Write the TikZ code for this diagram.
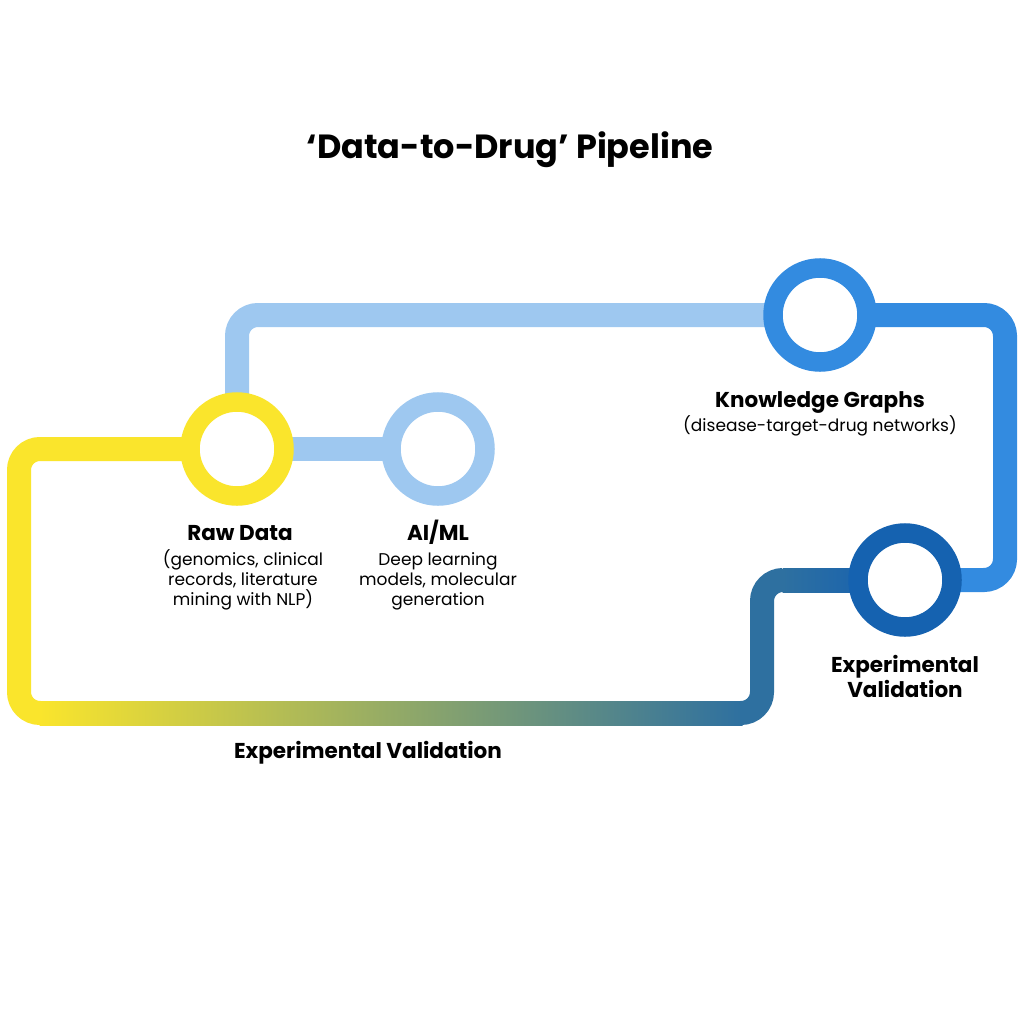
\documentclass[tikz,border=0pt]{standalone}
\usepackage{fontspec}
\setmainfont{Poppins}
\definecolor{yel}{HTML}{FAE52C}
\definecolor{lblue}{HTML}{9EC8F0}
\definecolor{kgblue}{HTML}{338BE0}
\definecolor{dblue}{HTML}{1562B0}
\definecolor{teal}{HTML}{2E70A0}
\definecolor{tealdark}{HTML}{1C65AD}
\pgfdeclarelayer{bg}
\pgfdeclarelayer{pipes}
\pgfsetlayers{bg,pipes,main}
\begin{document}
\begin{tikzpicture}[x=1pt,y=-1pt,
  pipe/.style={line width=24pt, rounded corners=21pt},
  ring/.style={circle, minimum size=94pt, inner sep=0pt, line width=19.5pt, fill=white, draw},
  head/.style={font=\fontsize{21.5}{25}\selectfont\bfseries, anchor=base, inner sep=0pt, align=center},
  desc/.style={font=\fontsize{17}{20}\selectfont, align=center, anchor=base, inner sep=0pt}
]
\begin{pgfonlayer}{bg}
\fill[white] (0,0) rectangle (1024,1024);
\end{pgfonlayer}
\useasboundingbox (0,0) rectangle (1024,1024);

\node[font=\fontsize{33.5}{40}\selectfont\bfseries, anchor=base, inner sep=0pt] (title) at (510,159) {‘Data-to-Drug’ Pipeline};

\node[ring, draw=yel] (raw) at (237,449) {};
\node[ring, draw=lblue] (aiml) at (438,449) {};
\node[ring, draw=kgblue] (kg) at (820,315) {};
\node[ring, draw=dblue] (ev) at (905,580) {};

\coordinate (ya) at (40,713);
\coordinate (tb) at (742,713);
\coordinate (tc) at (783,580);

\begin{pgfonlayer}{pipes}
\draw[pipe, lblue] (raw.center) -- (237,315) -- (kg.center);
\draw[pipe, lblue] (raw.center) -- (aiml.center);
\draw[pipe, kgblue] (kg.center) -- (1005,315) -- (1005,580) -- (ev.center);
\draw[pipe, yel] (raw.center) -- (19,449) -- (19,713) -- (ya);
\shade[left color=yel, right color=teal] (39.5,701) rectangle (742.5,725);
\draw[pipe, teal] (tb) -- (762,713) -- (762,580) -- (tc);
\shade[left color=teal, right color=tealdark] (782.5,568) rectangle (860,592);
\end{pgfonlayer}

\node[head] (rawt) at (240,540) {Raw Data};
\node[desc] (rawd) at (243,605) {(genomics, clinical\\records, literature\\mining with NLP)};
\node[head] (aimlt) at (438,540) {AI/ML};
\node[desc] (aimld) at (438,605) {Deep learning\\models, molecular\\generation};
\node[head] (kgt) at (820,407) {Knowledge Graphs};
\node[desc] (kgd) at (820,431) {(disease-target-drug networks)};
\node[head] (evt) at (905,697) {Experimental\\Validation};
\node[head] (botl) at (368,758) {Experimental Validation};
\end{tikzpicture}
\end{document}
